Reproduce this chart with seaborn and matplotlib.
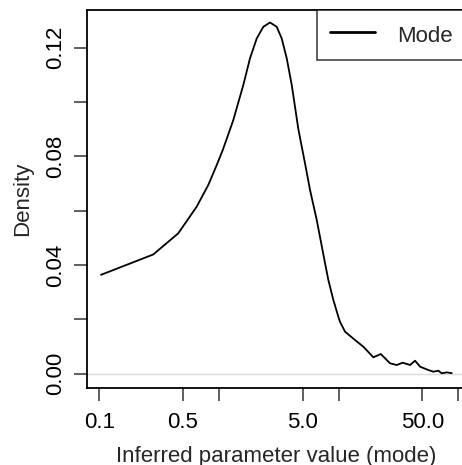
import numpy as np
import pandas as pd
import matplotlib
matplotlib.use("Agg")
import matplotlib.pyplot as plt
import seaborn as sns

# Data (x on log scale, density)
mode_x = [0.1033, 0.2825, 0.457, 0.651, 0.814, 0.957, 1.074, 1.317, 1.596, 1.815,
          2.065, 2.344, 2.667, 3.034, 3.34, 3.678, 4.05, 4.60, 5.23, 5.76,
          6.55, 7.69, 8.19, 9.02, 9.92, 10.25, 11.29, 13.68, 16.05, 19.45,
          22.44, 26.83, 30.5, 34.24, 39.42, 43.37, 47.8, 56.0, 61.7, 67.9,
          72.5, 79.8, 87.9]
mode_density = [0.0364, 0.0439, 0.0517, 0.0615, 0.0695, 0.0768, 0.0823, 0.0934, 0.1063, 0.1161,
                0.1234, 0.1277, 0.1293, 0.1277, 0.1234, 0.1161, 0.1063, 0.0900, 0.0774, 0.0676,
                0.0566, 0.0406, 0.0345, 0.0271, 0.0210, 0.0191, 0.01546, 0.0124, 0.00994, 0.00604,
                0.00725, 0.00383, 0.0032, 0.00405, 0.0032, 0.00478, 0.0026, 0.00136, 0.00074, 0.0011,
                0.00015, 0.0005, 0.0002]

x_ticks = [0.1, 0.5, 1, 5, 10, 50, 100]
x_tick_labels = ["0.1", "0.5", "", "5.0", "", "50.0", ""]
y_ticks = [0.0, 0.02, 0.04, 0.06, 0.08, 0.10, 0.12]
y_tick_labels = ["0.00", "", "0.04", "", "0.08", "", "0.12"]

df = pd.DataFrame({"x": mode_x, "density": mode_density, "series": "Mode"})

sns.set_style("white")
plt.rcParams["font.family"] = ["Liberation Sans", "DejaVu Sans"]

W, H = 462, 465
fig = plt.figure(figsize=(W / 100, H / 100), dpi=100)
left, right, top, bottom = 86.7, 466.0, 9.7, 387.7
ax = fig.add_axes([left / W, 1 - bottom / H, (right - left) / W, (bottom - top) / H])

ax.axhline(0, color="#d9d9d9", lw=1.0, zorder=0)
sns.lineplot(data=df, x="x", y="density", hue="series", palette=["black"],
             ax=ax, lw=1.3, legend=True, estimator=None, sort=False)
ax.set_xscale("log")
ax.set_xlim(0.0785, 115.6)
ax.set_ylim(-0.00515, 0.134)

ax.set_xticks(x_ticks)
ax.set_xticklabels(x_tick_labels)
ax.xaxis.set_minor_locator(matplotlib.ticker.NullLocator())
ax.set_yticks(y_ticks)
ax.set_yticklabels(y_tick_labels, rotation=90, va="center")

FS = 16
ax.tick_params(axis="both", direction="out", length=9.5, width=1.1, color="#333333",
               labelsize=FS, labelcolor="black", bottom=True, left=True)
ax.tick_params(axis="x", pad=8)
ax.tick_params(axis="y", pad=5)
for s in ax.spines.values():
    s.set_color("black")
    s.set_linewidth(1.3)

ax.set_xlabel("Inferred parameter value (mode)", fontsize=FS, labelpad=9)
ax.set_ylabel("Density", fontsize=FS, labelpad=9)

handles, labels = ax.get_legend_handles_labels()
leg = ax.legend(handles, ["Mode"], loc="upper right", borderaxespad=0, fancybox=False,
                frameon=True, edgecolor="black", fontsize=FS, handlelength=2.0,
                handletextpad=1.0, borderpad=0.6, handleheight=1.2, title=None)
leg.get_frame().set_linewidth(1.1)
for l in leg.get_lines():
    l.set_linewidth(2.0)

fig.savefig("out.png", dpi=100)
